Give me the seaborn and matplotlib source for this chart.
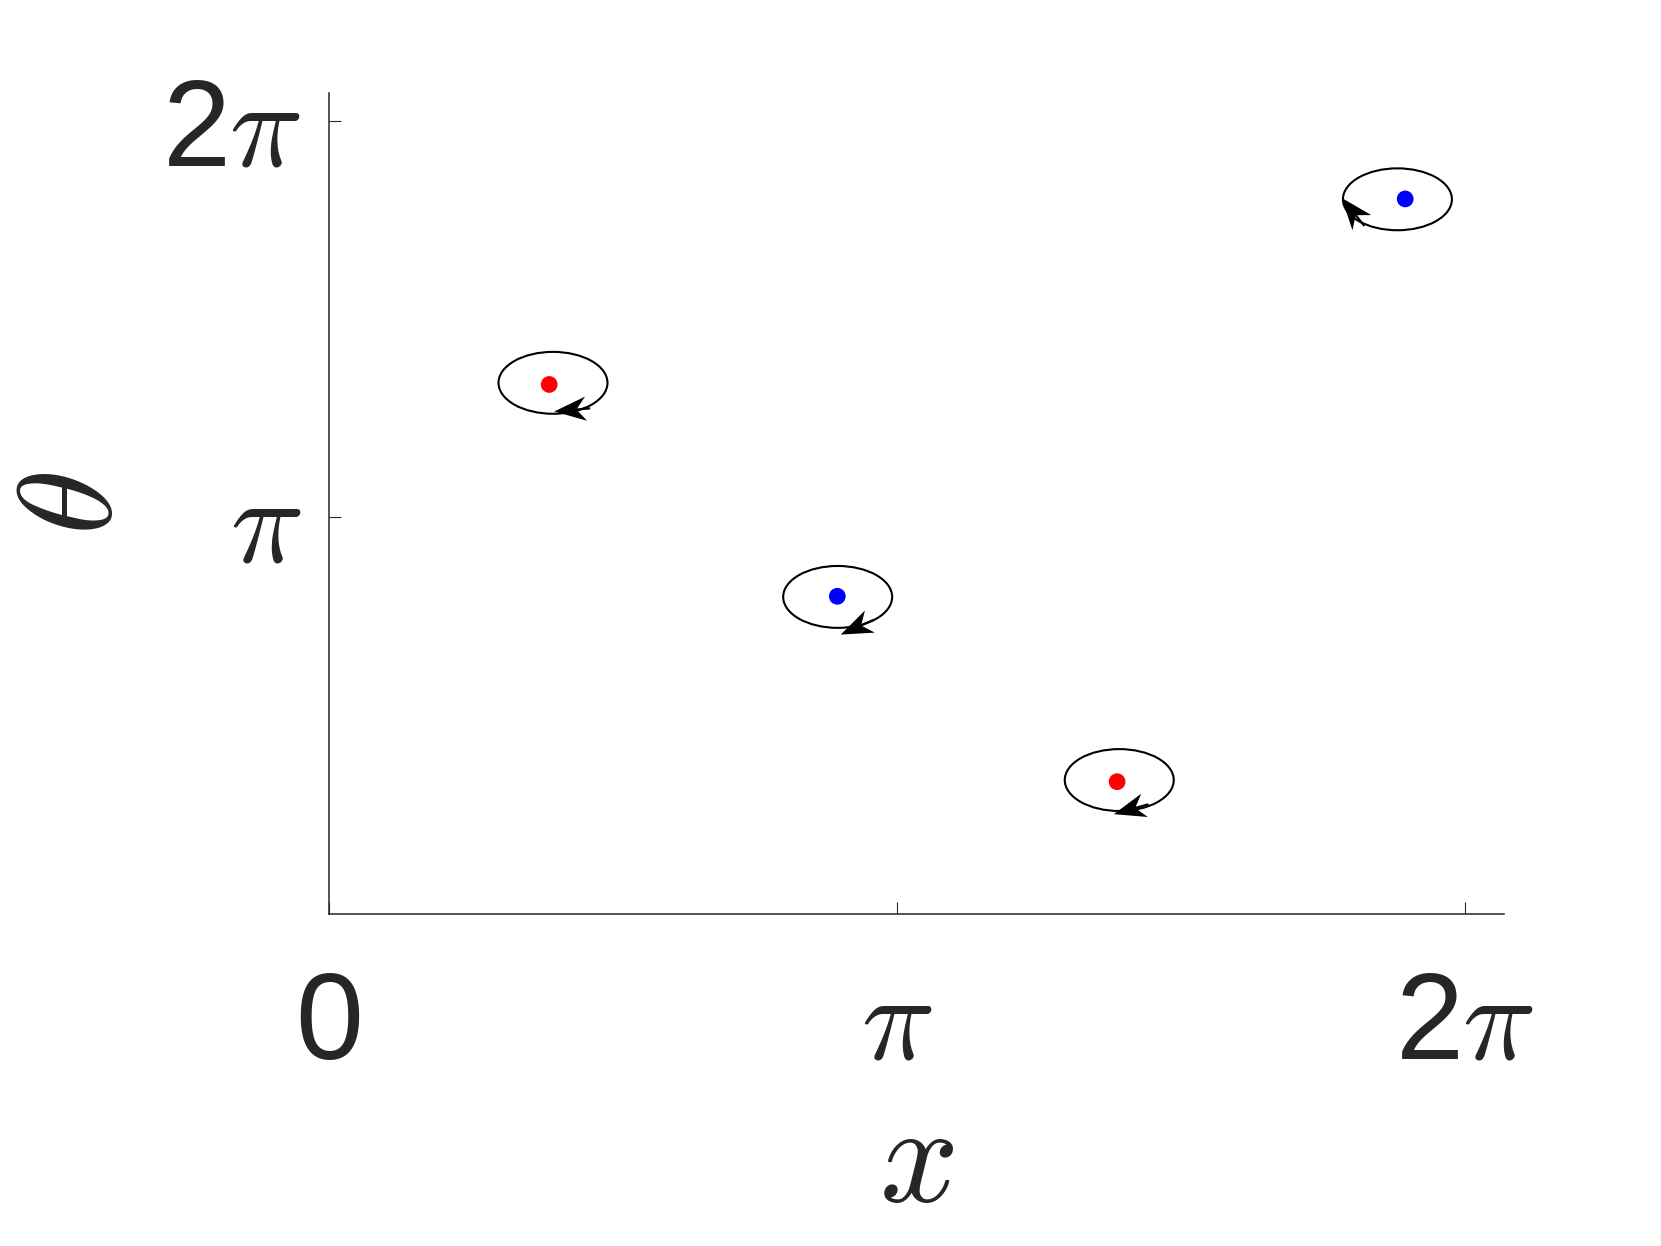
import numpy as np
import pandas as pd
import matplotlib
matplotlib.use("Agg")
import matplotlib.pyplot as plt
from matplotlib.patches import Ellipse
import seaborn as sns

# ---- data ----
pt_x = [1.219, 2.813, 4.361, 5.955]
pt_y = [4.194, 2.517, 1.049, 5.663]
pt_kind = ["red", "blue", "red", "blue"]
# ellipse centre offsets from the dots (data units) and ellipse size
ell_dx = [0.021, 0.002, 0.012, -0.043]
ell_dy = [0.013, -0.005, 0.013, -0.003]
ell_w = 0.603
ell_h = 0.49
# arrow tips relative to the dots (data units) and screen direction (deg)
tip_dx = [0.028, 0.019, -0.018, -0.351]
tip_dy = [-0.214, -0.303, -0.257, 0.008]
arrow_dir = [185.0, 204.0, 196.0, 129.0]

xtick_vals = [0, np.pi, 2 * np.pi]
xtick_labels = ["0", r"$\pi$", r"2$\pi$"]
ytick_vals = [np.pi, 2 * np.pi]
ytick_labels = [r"$\pi$", r"2$\pi$"]
lim = (0, 6.5)

df = pd.DataFrame({"x": pt_x, "y": pt_y, "kind": pt_kind})

sns.set_style("ticks")
plt.rcParams["font.family"] = ["Liberation Sans", "DejaVu Sans"]
plt.rcParams["mathtext.fontset"] = "cm"

fig = plt.figure(figsize=(16.61, 12.46), dpi=100)
ax = fig.add_axes([0.198, 0.2663, 0.7073, 0.6589])

# ellipses
for x, y, dx, dy in zip(pt_x, pt_y, ell_dx, ell_dy):
    ax.add_patch(Ellipse((x + dx, y + dy), ell_w, ell_h, fill=False,
                         edgecolor="black", linewidth=1.5, zorder=2))

# arrow heads
tx = np.array(pt_x) + np.array(tip_dx)
ty = np.array(pt_y) + np.array(tip_dy)
L = np.full(len(tx), 36.0)
ax.quiver(tx, ty, L, np.zeros_like(L), angles=np.array(arrow_dir),
          scale_units="dots", scale=1, units="dots", width=2.2,
          headwidth=11, headlength=14.5, headaxislength=10.5, minshaft=0.01,
          pivot="tip", color="black", zorder=3)

sns.scatterplot(data=df, x="x", y="y", hue="kind",
                palette={"red": "#ff0000", "blue": "#0000ff"},
                s=145, edgecolor="none", legend=False, ax=ax, zorder=4)

ax.set_xlim(*lim)
ax.set_ylim(*lim)
ax.set_xticks(xtick_vals, xtick_labels)
ax.set_yticks(ytick_vals, ytick_labels)
ax.tick_params(direction="in", length=8.6, width=0.8, colors="#262626",
               labelsize=88, labelcolor="#262626")
ax.tick_params(axis="x", pad=40)
ax.tick_params(axis="y", pad=20)
for s in ["top", "right"]:
    ax.spines[s].set_visible(False)
for s in ["left", "bottom"]:
    ax.spines[s].set_linewidth(1.1)
    ax.spines[s].set_color("#262626")

ax.set_xlabel(r"$x$", fontsize=100, color="#262626", labelpad=12)
ax.set_ylabel(r"$\theta$", fontsize=96, color="#262626", labelpad=16)

fig.savefig("out.png", dpi=100)
